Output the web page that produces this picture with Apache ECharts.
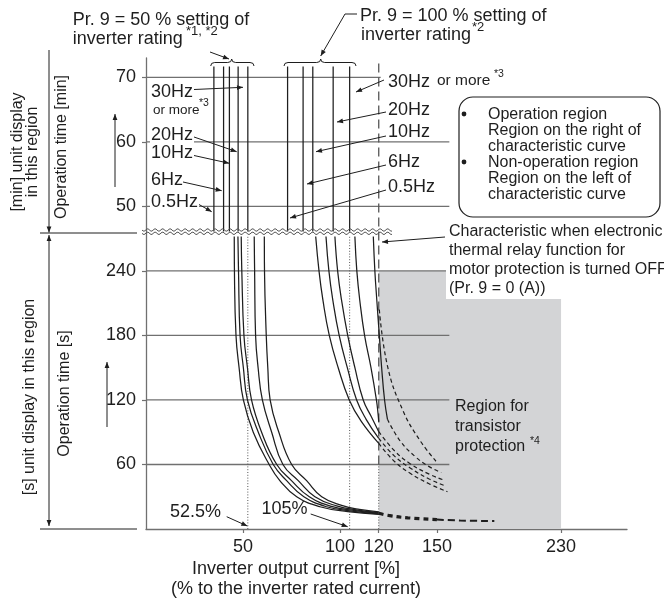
<!DOCTYPE html>
<html><head><meta charset="utf-8">
<script src="https://cdn.jsdelivr.net/npm/echarts@6/dist/echarts.min.js"></script>
<style>html,body{margin:0;padding:0;background:#fff}#c{width:664px;height:601px}</style>
</head><body><div id="c"></div>
<script>
// ---------- data ----------
const xTickValues = [50, 100, 120, 150, 230];          // % labels on x axis
const secTicks = [60, 120, 180, 240];                   // [s] region ticks
const minTicks = [50, 60, 70];                          // [min] region ticks
const hzNames = ['0.5Hz', '6Hz', '10Hz', '20Hz', '30Hz or more'];
// vertical characteristic lines in the [min] region (% current)
const minLines50 = [35, 40, 43, 47.5, 52.5];
const minLines100 = [73, 81, 86, 96.5, 105];
// curves in the [s] region: [current %, time s]
const s50_05 = [[45.5,272],[45.6,240],[46.4,180],[48.0,150],[50.2,120],[55.3,90],[63.5,60],[69.0,45],[77.7,30],[89.7,20.7],[104,16.2],[120,13.6]];
const s50_6  = [[47.4,272],[47.7,240],[48.5,180],[50.2,150],[52.3,120],[57.9,90],[65.6,60],[72.5,45],[81.4,30],[93.1,20.7],[106,16.6],[120,14.1]];
const s50_10 = [[49.1,272],[49.4,240],[50.5,180],[52.3,150],[54.4,120],[59.6,90],[67.4,60],[75.0,45],[84.2,30],[95.7,21],[108,17.1],[120,14.7]];
const s50_20 = [[55.8,272],[56.0,240],[56.5,180],[57.8,150],[60.0,120],[64.8,90],[70.6,60],[78.5,45],[87.1,30],[98.3,21.5],[109,17.6],[120,15.3]];
const s50_30 = [[61.0,272],[61.1,240],[62.0,180],[62.8,150],[64.0,120],[68.5,90],[75.1,60],[82.8,45],[90.6,30],[100.9,22],[110,18.2],[120,16.0]];
const s100_05 = [[87.5,272],[89.2,240],[91.2,213],[94.5,180],[99.1,150],[104.8,120],[111,100],[120,79.6]];
const s100_6  = [[92.8,272],[94.3,240],[96.3,213],[99.6,180],[103.8,150],[108.6,120],[113.5,102],[120,84.3]];
const s100_10 = [[97.4,272],[98.8,240],[100.8,213],[104.0,180],[107.7,150],[112,120],[116,105],[120,90.5]];
const s100_20 = [[107.7,272],[108.7,240],[110.2,213],[112.7,180],[116.0,150],[118.8,120],[119.6,108],[120,99.8]];
const s100_30 = [[117.2,272],[118,240],[119,213],[120.3,180],[121.5,150],[123,120],[124.5,102]];
// transistor protection region (dashed)
const tpA = [[120.3,204],[124.7,150],[132.5,110],[141,83],[149.5,63]];
const tpB = [[124.5,102],[131,82],[139,67],[146,58],[152.8,52.5]];
const tpC = [[120,90.5],[128,73],[136,61],[146,51],[154.3,45.7]];
const tpD = [[120,84.3],[128,68],[136,57],[146,46.5],[155.7,40]];
const tpE = [[120,79.6],[128,63],[136,52],[146,42],[156.8,34.7]];
const tailThick = [[120,14.6],[125,12.6],[135,10.4],[150,8.8]];
const tailThin = [[150,8.8],[165,7.9],[187,7.4]];
const grayRegion = {x0:120, x1:230, y0:0, y1:240};
const markers = [52.5, 105];       // dotted reference lines (%)
const offLine = 120;               // Pr.9 = 0 characteristic (%)
const secTop = 272, minBottom = 46.1, minTop = 71.7;

// ---------- scales (axis transforms) ----------
function xs(p){ return p <= 150 ? p : 150 + (p - 150) * 0.8; }
function ym(m){ return 300 + (m - 50) * 6; }

const FONT = '"Liberation Sans", Arial, Helvetica, sans-serif';
const INK = '#1e1e1e', GRID = '#707070';

function curve(pts, opt){
  return Object.assign({type:'line', data: pts.map(p => [xs(p[0]), p[1]]), symbol:'none', smooth:0.45,
    silent:true, animation:false, z:5,
    lineStyle:{color:INK, width:1.25}}, opt || {});
}
const series = [];
series.push({type:'line', data:[], silent:true, markArea:{silent:true, itemStyle:{color:'#d3d4d6'},
  data:[[{xAxis:xs(grayRegion.x0), yAxis:grayRegion.y0},{xAxis:xs(grayRegion.x1), yAxis:grayRegion.y1}]]}, z:1});
secTicks.forEach(s => series.push(curve([[0,s],[158,s]], {smooth:false, z:3, lineStyle:{color:GRID, width:1.3}})));
minTicks.forEach(m => series.push({type:'line', symbol:'none', silent:true, z:3,
  data:[[0, ym(m)], [xs(m === 70 ? 121 : 158), ym(m)]], lineStyle:{color:GRID, width:1.3}}));
minLines50.concat(minLines100).forEach(p => series.push({type:'line', symbol:'none', silent:true, z:5,
  data:[[xs(p), ym(minBottom)], [xs(p), ym(minTop)]], lineStyle:{color:INK, width:1.25}}));
markers.forEach(p => series.push({type:'line', symbol:'none', silent:true, z:4,
  data:[[xs(p),0],[xs(p),secTop]], lineStyle:{color:'#555', width:1, type:[1,1.8]}}));
series.push({type:'line', symbol:'none', silent:true, z:4, data:[[xs(offLine),60],[xs(offLine),ym(minTop)+6]],
  lineStyle:{color:'#555', width:1.3, type:[9,5]}});
series.push({type:'line', symbol:'none', silent:true, z:4, data:[[xs(offLine),0],[xs(offLine),60]],
  lineStyle:{color:'#555', width:1, type:[1,1.8]}});
[s50_05, s50_6, s50_10, s50_20, s50_30, s100_05, s100_6, s100_10, s100_20, s100_30].forEach(c => series.push(curve(c)));
[tpA, tpB, tpC, tpD, tpE].forEach(c => series.push(curve(c, {lineStyle:{color:INK, width:1.2, type:[4,3]}})));
series.push(curve(tailThick, {lineStyle:{color:INK, width:3.2, type:[5,4]}}));
series.push(curve(tailThin, {lineStyle:{color:INK, width:2, type:[7,4]}}));

const xCustom = xTickValues.map(xs);
const yCustom = secTicks.concat(minTicks.map(ym));

const chart = echarts.init(document.getElementById('c'), null, {renderer:'canvas'});
chart.setOption({
  animation:false,
  grid:{left:146, top:58, width:481, height:471},
  xAxis:{type:'value', min:0, max:248,
    axisLine:{show:true, lineStyle:{color:GRID, width:1.3}},
    axisTick:{show:true, length:4, customValues:xCustom, lineStyle:{color:GRID, width:1.2}},
    axisLabel:{show:true, customValues:xCustom, margin:9, fontSize:18, fontFamily:FONT, color:INK,
      formatter: v => { const i = xCustom.findIndex(c => Math.abs(c - v) < 0.01); return i >= 0 ? String(xTickValues[i]) : ''; }},
    splitLine:{show:false}},
  yAxis:{type:'value', min:0, max:438,
    axisLine:{show:true, lineStyle:{color:GRID, width:1.3}},
    axisTick:{show:true, length:4, customValues:yCustom, lineStyle:{color:GRID, width:1.2}},
    axisLabel:{show:true, customValues:yCustom, margin:10, fontSize:18, fontFamily:FONT, color:INK,
      formatter: v => v > 276 ? String(Math.round(50 + (v - 300) / 6)) : String(v)},
    splitLine:{show:false}},
  series: series
});

// ---------- annotations ----------
const G = [];
function txt(x, y, t, size, o){
  o = o || {};
  const st = {text:t, fontSize:size, fontFamily:FONT, fill:INK, align:o.align || 'left', verticalAlign:'middle'};
  if (o.lh) st.lineHeight = o.lh;
  if (o.bg) { st.backgroundColor = '#fff'; st.padding = [0,1]; }
  G.push({type:'text', x:x, y:y, rotation:o.rot || 0, z:30, silent:true, style:st});
}
function seg(x1, y1, x2, y2, c, w){ G.push({type:'line', z:30, silent:true, shape:{x1:x1,y1:y1,x2:x2,y2:y2}, style:{stroke:c || INK, lineWidth:w || 1}}); }
function arrow(pts, both){
  for (let i = 1; i < pts.length; i++) seg(pts[i-1][0], pts[i-1][1], pts[i][0], pts[i][1]);
  const head = (a, b) => {
    const dx = b[0]-a[0], dy = b[1]-a[1], L = Math.hypot(dx, dy), ux = dx/L, uy = dy/L, h = 6, w = 2.4;
    const bx = b[0]-ux*h, by = b[1]-uy*h;
    G.push({type:'polygon', z:31, silent:true, shape:{points:[[b[0],b[1]],[bx-uy*w,by+ux*w],[bx+uy*w,by-ux*w]]}, style:{fill:INK}});
  };
  head(pts[pts.length-2], pts[pts.length-1]);
  if (both) head(pts[1], pts[0]);
}
function bez(x1, y1, cx, cy, x2, y2){
  G.push({type:'bezierCurve', z:30, silent:true, shape:{x1:x1, y1:y1, x2:x2, y2:y2, cpx1:cx, cpy1:cy}, style:{stroke:INK, lineWidth:1, fill:null}});
}
function brace(x1, x2, xm){
  const yb = 66, yf = 62.5, yt = 59;
  bez(x1, yb, x1, yf, x1+4, yf);
  seg(x1+4, yf, xm-4, yf);
  bez(xm-4, yf, xm, yf, xm, yt);
  bez(xm, yt, xm, yf, xm+4, yf);
  seg(xm+4, yf, x2-4, yf);
  bez(x2-4, yf, x2, yf, x2, yb);
}

// top titles
txt(72.7, 20.5, 'Pr. 9 = 50 % setting of', 18);
txt(72.7, 39.5, 'inverter rating', 18);
txt(186, 31, '*1, *2', 13);
txt(360, 16, 'Pr. 9 = 100 % setting of', 18);
txt(361, 35, 'inverter rating', 18);
txt(472, 27, '*2', 13);
arrow([[210,52],[229,59]]);
arrow([[357,14],[345,14],[320.7,56]]);
brace(210.7, 254, 231.7);
brace(284, 356, 320.7);

// left-group Hz labels
txt(150, 91.7, '30Hz', 18, {bg:true});
txt(152, 110, 'or more', 13.5, {bg:true});
txt(199, 103, '*3', 10.5);
txt(150, 135, '20Hz', 18, {bg:true});
txt(150, 153.3, '10Hz', 18, {bg:true});
txt(150, 180, '6Hz', 18, {bg:true});
txt(150, 201.7, '0.5Hz', 18, {bg:true});
arrow([[194,89.5],[243,87.3]]);
arrow([[194,137],[236.7,151.7]]);
arrow([[194,155.5],[229.3,163.3]]);
arrow([[183,182],[221.7,190.7]]);
arrow([[199,204.5],[211.7,211.7]]);
// right-group Hz labels
txt(388, 81.7, '30Hz', 18);
txt(437, 80.5, 'or more', 15.5);
txt(494, 74, '*3', 10.5);
txt(388, 110, '20Hz', 18);
txt(388, 131.7, '10Hz', 18);
txt(388, 161.7, '6Hz', 18);
txt(388, 186.7, '0.5Hz', 18);
arrow([[384,80],[356,92]]);
arrow([[386,112],[337,122]]);
arrow([[386,136],[316,151.7]]);
arrow([[386,165],[307,184]]);
arrow([[386,190],[290,218]]);

// legend box
G.push({type:'rect', z:25, silent:true, shape:{x:459, y:97, width:201, height:120, r:14}, style:{fill:'#fff', stroke:INK, lineWidth:1.2}});
G.push({type:'circle', z:30, silent:true, shape:{cx:464, cy:114, r:2.4}, style:{fill:INK}});
G.push({type:'circle', z:30, silent:true, shape:{cx:464, cy:162, r:2.4}, style:{fill:INK}});
[['Operation region',115],['Region on the right of',131],['characteristic curve',147],
 ['Non-operation region',163],['Region on the left of',178.5],['characteristic curve',194.5]].forEach(l => txt(488, l[1], l[0], 16));

// OFF characteristic note
G.push({type:'rect', z:24, silent:true, shape:{x:446, y:268, width:122, height:31}, style:{fill:'#fff'}});
[['Characteristic when electronic',232],['thermal relay function for',251],
 ['motor protection is turned OFF',270],['(Pr. 9 = 0 (A))',289]].forEach(l => txt(449, l[1], l[0], 16));
arrow([[445,237],[382,242]]);
// transistor protection note
txt(455, 407, 'Region for', 16);
txt(455, 427, 'transistor', 16);
txt(455, 447, 'protection', 16);
txt(530, 441, '*4', 10.5);
// marker labels
txt(170, 512, '52.5%', 18);
arrow([[226.7,516.7],[247.3,526]]);
txt(261.5, 509, '105%', 18);
arrow([[310.7,514],[347.7,526.7]]);
// x axis title
txt(296, 569, 'Inverter output current [%]', 18, {align:'center'});
txt(296, 589, '(% to the inverter rated current)', 18, {align:'center'});

// left side region marks
seg(40, 233, 137, 233);
seg(40, 529, 137, 529);
arrow([[49,50],[49,232.5]]);
arrow([[49,235],[49,526]], true);
arrow([[115,187],[115,114]]);
arrow([[107,427],[107,362]]);
txt(25, 152, '[min] unit display\nin this region', 16, {align:'center', rot:Math.PI/2, lh:15});
txt(62, 147, 'Operation time [min]', 16, {align:'center', rot:Math.PI/2});
txt(30, 397, '[s] unit display in this region', 16, {align:'center', rot:Math.PI/2});
txt(65, 393.5, 'Operation time [s]', 16, {align:'center', rot:Math.PI/2});

// axis break (wavy double line)
[230, 233.3].forEach(y0 => {
  const pts = [];
  for (let x = 142; x <= 392; x += 1) pts.push([x, y0 + 1.2 * Math.sin(2 * Math.PI * (x - 142) / 7.5)]);
  G.push({type:'polyline', z:30, silent:true, shape:{points:pts}, style:{stroke:'#555', lineWidth:1, fill:null}});
});

chart.setOption({graphic:{elements:G}});
</script></body></html>
